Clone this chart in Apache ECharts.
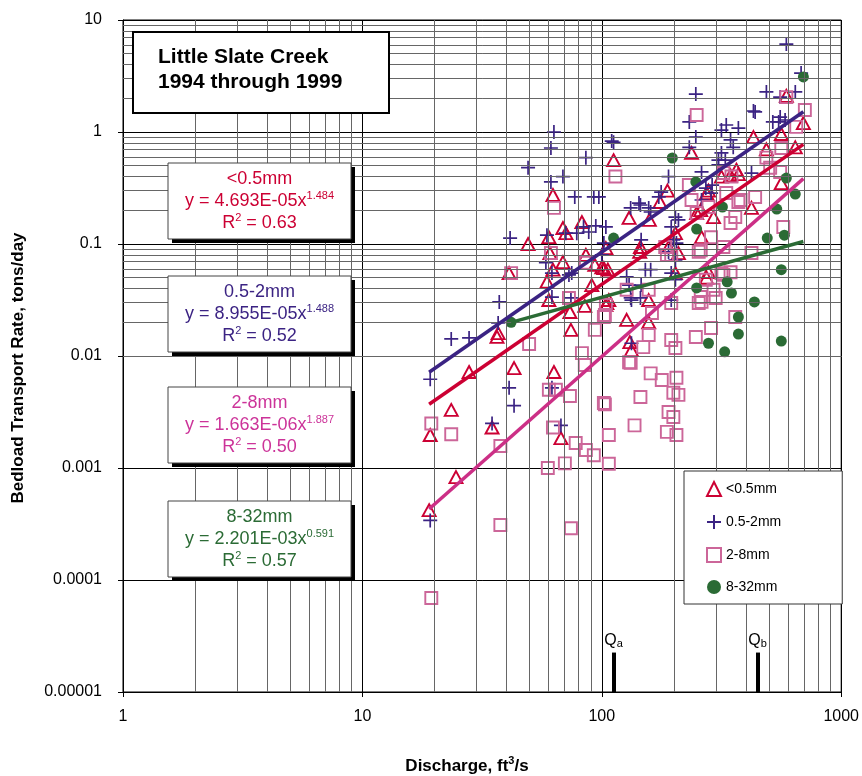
<!DOCTYPE html>
<html>
<head>
<meta charset="utf-8">
<script src="https://cdn.jsdelivr.net/npm/echarts@6/dist/echarts.min.js"></script>
<style>
  html, body { margin: 0; padding: 0; background: #fff; }
  #chart { width: 862px; height: 776px; }
</style>
</head>
<body>
<div id="chart"></div>
<script>
// Bedload samples, Little Slate Creek 1994-1999: [discharge ft3/s, transport tons/day]
const fines = [
  [19.2,0.00197],[19.0,0.00042],[23.5,0.0033],[24.6,0.00083],[27.9,0.0072],[34.8,0.0023],[36.5,0.0148],[36.9,0.016],
  [43.0,0.0078],[49.2,0.100],[41.0,0.055],[59.0,0.046],[63.1,0.0072],[67.5,0.00185],[60.1,0.115],[60.7,0.083],
  [62.5,0.059],[68.8,0.069],[70.8,0.125],[73.6,0.0247],[74.3,0.0171],[60.1,0.0316],[85.8,0.080],[84.9,0.028],
  [90.8,0.043],[100,0.062],[104,0.0285],[62.5,0.274],[112,0.56],[82.6,0.157],[68.8,0.139],[93.5,0.065],
  [102,0.061],[106,0.059],[105,0.0297],[104,0.092],[237,0.65],[430,0.90],[487,0.70],[590,2.10],[562,0.96],
  [643,0.73],[695,1.20],[365,0.46],[345,0.41],[316,0.40],[188,0.30],[175,0.237],[158,0.164],[130,0.171],
  [145,0.094],[249,0.189],[293,0.174],[422,0.21],[562,0.35],[279,0.30],[274,0.285],[203,0.125],[261,0.115],
  [274,0.050],[144,0.085],[107,0.0316],[157,0.0316],[190,0.094],[209,0.083],[259,0.201],[279,0.056],[203,0.055],
  [127,0.021],[157,0.020],[131,0.0133],[133,0.0113],[372,0.42]
];
const sand = [
  [19.2,0.0062],[19.2,0.00034],[23.5,0.0142],[27.9,0.0145],[36.9,0.0197],[37.3,0.0304],[41.0,0.0052],[43.0,0.0036],
  [34.8,0.0025],[67.5,0.0024],[61.9,0.0052],[41.4,0.113],[59.0,0.120],[70.8,0.125],[78.6,0.125],[88.2,0.128],
  [102,0.102],[61.9,0.0336],[61.9,0.055],[58.4,0.068],[74.3,0.033],[74.9,0.055],[72.9,0.053],[63.1,1.0],
  [61.3,0.72],[49.2,0.48],[85.8,0.59],[61.3,0.358],[68.8,0.40],[77.1,0.263],[92.6,0.263],[83.9,0.142],
  [94.4,0.145],[104,0.142],[110,0.83],[590,6.1],[680,3.36],[487,2.28],[556,2.05],[643,2.28],[247,2.18],
  [232,1.23],[247,0.90],[430,1.54],[112,0.81],[232,0.73],[331,1.155],[316,1.04],[372,1.085],[345,0.85],
  [354,0.73],[518,1.23],[556,1.36],[583,1.28],[316,0.65],[307,0.56],[422,0.43],[289,0.336],[272,0.316],
  [190,0.40],[177,0.291],[173,0.263],[143,0.232],[132,0.21],[160,0.193],[97.2,0.263],[261,0.247],[146,0.109],
  [203,0.174],[199,0.109],[437,1.51],[548,1.23],[328,0.56],[307,0.51],[286,0.285],[261,0.44],[145,0.223],
  [157,0.21],[195,0.142],[209,0.164],[203,0.072],[152,0.059],[160,0.059],[127,0.051],[133,0.0316],[195,0.055],
  [203,0.048],[195,0.0316],[100,0.080],[190,0.085],[205,0.102],[132,0.033],[145,0.033],[133,0.013],[130,0.043],
  [146,0.043]
];
const gravel = [
  [19.4,0.0025],[23.5,0.0020],[37.7,0.00157],[49.7,0.0128],[37.7,0.00031],[19.4,0.000069],[60.1,0.0050],[64.3,0.0050],
  [73.6,0.0044],[62.5,0.0023],[59.5,0.0010],[70.1,0.0011],[77.8,0.00167],[85.8,0.00145],[92.6,0.0013],[107,0.00109],
  [103,0.0037],[107,0.00197],[74.3,0.00029],[82.6,0.0106],[84.9,0.0083],[93.5,0.0171],[103,0.0232],[41.8,0.055],
  [61.3,0.083],[63.1,0.21],[72.9,0.033],[104,0.0285],[85.8,0.068],[249,1.42],[114,0.40],[590,2.05],[705,1.57],
  [649,1.11],[487,0.59],[562,0.72],[556,0.44],[437,0.263],[372,0.237],[348,0.40],[322,0.43],[573,0.142],
  [231,0.336],[237,0.247],[331,0.285],[345,0.154],[279,0.214],[249,0.189],[505,0.48],[380,0.247],[361,0.174],
  [286,0.115],[322,0.094],[259,0.088],[316,0.055],[272,0.048],[259,0.0336],[293,0.039],[184,0.094],[254,0.085],
  [422,0.083],[345,0.056],[322,0.053],[254,0.0297],[261,0.0304],[299,0.033],[361,0.0223],[286,0.0178],[247,0.0148],
  [195,0.0297],[162,0.0242],[157,0.0154],[149,0.012],[132,0.0087],[102,0.0223],[195,0.0139],[203,0.0118],
  [160,0.0070],[178,0.0061],[205,0.0064],[145,0.0043],[199,0.0047],[209,0.0045],[102,0.0038],[137,0.0024],
  [190,0.00316],[199,0.00285],[187,0.0021],[205,0.00197],[127,0.039],[157,0.039],[187,0.080],[195,0.080],[130,0.0088]
];
const cobble = [
  [41.8,0.020],[112,0.113],[197,0.586],[247,0.358],[319,0.214],[249,0.136],[249,0.0405],[334,0.046],[348,0.0365],
  [434,0.0304],[372,0.0223],[372,0.0157],[279,0.013],[326,0.0109],[562,0.0136],[538,0.205],[491,0.113],[579,0.120],
  [590,0.388],[643,0.279],[695,3.10],[562,0.059]
];

// Size classes and their power-law fits y = a * x^b
const classNames = ['<0.5mm', '0.5-2mm', '2-8mm', '8-32mm'];
const fitCoef = [4.693e-5, 8.955e-5, 1.663e-6, 2.201e-3];
const fitExp = [1.484, 1.488, 1.887, 0.591];
const fitR2 = ['0.63', '0.52', '0.50', '0.57'];
const fitRange = [[19, 695], [19, 695], [19, 695], [41.8, 695]];

// Reference discharges marked along the bottom
const qDischarge = [112, 447];
const qSub = ['a', 'b'];

const xTickLabels = ['1', '10', '100', '1000'];
const yTickLabels = ['0.00001', '0.0001', '0.001', '0.01', '0.1', '1', '10'];

const FONT = 'Liberation Sans, Arial, Helvetica, sans-serif';
const markColor = ['#cc0033', '#3b2383', '#cc6699', '#2b6b35'];
const lineColor = ['#cc0033', '#3b2383', '#cc2f86', '#2b6b35'];
const textColor = ['#cc0033', '#3b2383', '#cc3399', '#2b6b35'];

function fmtE(a) {
  const parts = a.toExponential(3).split('e');
  const n = parseInt(parts[1], 10);
  return parts[0] + 'E' + (n < 0 ? '-' : '+') + String(Math.abs(n)).padStart(2, '0');
}

// minor grid values 2..9 within each decade
function minorValues(lo, hi) {
  const out = [];
  for (let d = lo; d < hi; d++) {
    for (let k = 2; k <= 9; k++) out.push(k * Math.pow(10, d));
  }
  return out;
}
const gridLines = [];
minorValues(0, 3).forEach(v => gridLines.push({ xAxis: v }));
minorValues(-5, 1).forEach(v => gridLines.push({ yAxis: v }));

const crossPath = 'path://M0,6L12,6M6,0L6,12';
const symbols = ['triangle', crossPath, 'rect', 'circle'];
const symbolSizes = [[13, 12], 14, 12, 11];
const pointSets = [fines, sand, gravel, cobble];

const series = [];
series.push({
  name: 'grid', type: 'line', data: [], z: 1, silent: true,
  markLine: {
    silent: true, symbol: ['none', 'none'], label: { show: false }, animation: false,
    lineStyle: { color: '#666', width: 1, type: 'solid' },
    data: gridLines
  }
});

pointSets.forEach((pts, i) => {
  const hollow = i < 3;
  series.push({
    name: classNames[i], type: 'scatter', data: pts, z: 3 + (i === 3 ? 1 : 0),
    symbol: symbols[i], symbolSize: symbolSizes[i],
    itemStyle: hollow
      ? { color: 'rgba(0,0,0,0)', borderColor: markColor[i], borderWidth: i === 1 ? 1.7 : 1.9, opacity: 1 }
      : { color: markColor[i], opacity: 1 }
  });
});

// regression lines from each fit
fitCoef.forEach((a, i) => {
  const b = fitExp[i];
  const pts = fitRange[i].map(x => [x, a * Math.pow(x, b)]);
  series.push({
    name: classNames[i] + ' fit', type: 'line', data: pts, z: 5,
    showSymbol: false, symbol: 'none', silent: true,
    lineStyle: { color: lineColor[i], width: 3.5 }
  });
});

series.push({
  name: 'Q', type: 'line', data: [], z: 6, silent: true,
  markLine: {
    silent: true, symbol: ['none', 'none'], animation: false,
    lineStyle: { color: '#000', width: 4, type: 'solid' },
    data: qDischarge.map((q, i) => [
      { coord: [q, 1e-5] },
      {
        coord: [q, 2.25e-5],
        label: {
          show: true, position: 'end', distance: 3,
          formatter: '{q|Q}{s|' + qSub[i] + '}',
          rich: {
            q: { fontSize: 16, color: '#000', fontFamily: FONT },
            s: { fontSize: 11, color: '#000', fontFamily: FONT, verticalAlign: 'bottom', padding: [6, 0, 0, 0] }
          }
        }
      }
    ])
  }
});

// annotation boxes with fit equations
const boxTops = [163, 276, 387, 501];
const graphics = [];
graphics.push({
  type: 'rect', shape: { x: 133, y: 32, width: 256, height: 81 },
  style: { fill: '#fff', stroke: '#000', lineWidth: 2 }, z: 100
});
graphics.push({
  type: 'text', x: 158, y: 70, z: 101,
  style: {
    text: 'Little Slate Creek\n1994 through 1999', fill: '#000',
    font: 'bold 21px ' + FONT, lineHeight: 25, align: 'left', verticalAlign: 'middle'
  }
});
boxTops.forEach((top, i) => {
  const c = textColor[i];
  // drop shadow, then the framed box
  graphics.push({
    type: 'rect', shape: { x: 172, y: top + 4, width: 183, height: 76 }, z: 99,
    style: { fill: '#000' }
  });
  graphics.push({
    type: 'rect', shape: { x: 168, y: top, width: 183, height: 76 }, z: 100,
    style: { fill: '#fff', stroke: '#444', lineWidth: 1 }
  });
  graphics.push({
    type: 'text', x: 259.5, y: top + 38, z: 101,
    style: {
      text: '{t|' + classNames[i] + '}\n{t|y = ' + fmtE(fitCoef[i]) + 'x}{s|' + fitExp[i].toFixed(3) + '}\n{t|R}{s|2}{t| = ' + fitR2[i] + '}',
      align: 'center', verticalAlign: 'middle',
      rich: {
        t: { fontSize: 18, lineHeight: 22, fill: c, fontFamily: FONT },
        s: { fontSize: 11, fill: c, fontFamily: FONT, verticalAlign: 'top' }
      }
    }
  });
});
graphics.push({
  type: 'text', x: 18, y: 368, rotation: Math.PI / 2, z: 101,
  style: {
    text: 'Bedload Transport Rate, tons/day', fill: '#000',
    font: 'bold 17px ' + FONT, align: 'center', verticalAlign: 'middle'
  }
});
graphics.push({
  type: 'text', x: 467, y: 766, z: 101,
  style: {
    text: '{b|Discharge, ft}{u|3}{b|/s}', align: 'center', verticalAlign: 'middle',
    rich: {
      b: { fontSize: 17, fontWeight: 'bold', fill: '#000', fontFamily: FONT, lineHeight: 22 },
      u: { fontSize: 11, fontWeight: 'bold', fill: '#000', fontFamily: FONT, verticalAlign: 'top' }
    }
  }
});

const chart = echarts.init(document.getElementById('chart'), null, { renderer: 'canvas' });
chart.setOption({
  animation: false,
  backgroundColor: '#fff',
  grid: { left: 123, right: 19, top: 20, bottom: 84, show: true, borderColor: '#000', borderWidth: 1 },
  legend: {
    data: classNames, orient: 'vertical', left: 684, top: 471,
    padding: [10, 61, 10, 22], itemGap: 17, itemWidth: 14, itemHeight: 14,
    backgroundColor: '#fff', borderColor: '#333', borderWidth: 1, selectedMode: false,
    textStyle: { fontSize: 14, color: '#000', fontFamily: FONT }, z: 50
  },
  xAxis: {
    type: 'log', logBase: 10, min: 1, max: 1000, splitNumber: 3,
    axisLine: { show: true, lineStyle: { color: '#000' } },
    axisTick: { show: true, length: 5, lineStyle: { color: '#000' } },
    axisLabel: {
      fontSize: 16, color: '#000', fontFamily: FONT, margin: 17,
      formatter: v => xTickLabels[Math.round(Math.log10(v))]
    },
    splitLine: { show: true, lineStyle: { color: '#000', width: 1 } }
  },
  yAxis: {
    type: 'log', logBase: 10, min: 0.00001, max: 10, splitNumber: 6,
    axisLine: { show: true, lineStyle: { color: '#000' } },
    axisTick: { show: true, length: 5, lineStyle: { color: '#000' } },
    axisLabel: {
      fontSize: 16, color: '#000', fontFamily: FONT, margin: 21,
      formatter: v => yTickLabels[Math.round(Math.log10(v)) + 5]
    },
    splitLine: { show: true, lineStyle: { color: '#000', width: 1 } }
  },
  graphic: graphics,
  series: series
});
</script>
</body>
</html>
